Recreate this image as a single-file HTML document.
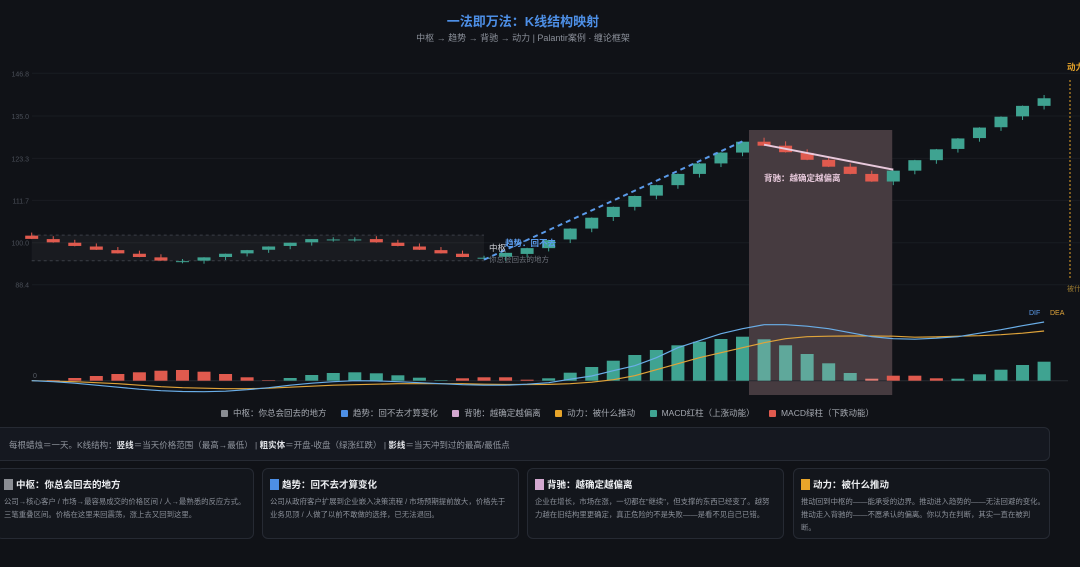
<!DOCTYPE html>
<html><head><meta charset="utf-8">
<style>
html,body{margin:0;padding:0;background:#101217;width:1080px;height:567px;overflow:hidden;font-family:"Liberation Sans","Noto Sans CJK SC",sans-serif;}
#wrap{position:relative;width:1080px;height:567px;}
.title{position:absolute;left:0;width:1046px;top:11px;text-align:center;color:#4d8fe6;font-weight:bold;font-size:13px;}
.sub{position:absolute;left:0;width:1046px;top:31px;text-align:center;color:#8a8f99;font-size:9px;}
.legend{position:absolute;top:407px;left:221px;font-size:8.5px;color:#a4a8b0;white-space:nowrap;}
.legend span.it{margin-right:12px;}
.legend i{display:inline-block;width:7px;height:7px;border-radius:1px;margin-right:5px;vertical-align:-1px;}
.note{position:absolute;left:-8px;top:427px;width:1058px;height:34px;box-sizing:border-box;background:#151820;border:1px solid #262a33;border-radius:6px;font-size:8.5px;color:#8f949d;padding:11px 0 0 16px;}
.note b{color:#e0e2e6;}
.card{position:absolute;top:468px;height:71px;box-sizing:border-box;background:#13161c;border:1px solid #262a33;border-radius:6px;padding:8px 7px;}
.card h4{margin:0 0 4px 0;font-size:9.5px;color:#eceef1;font-weight:bold;}
.card h4 i{display:inline-block;width:9px;height:11px;margin-right:3px;vertical-align:-2px;}
.card p{margin:0;font-size:7.4px;line-height:13px;color:#8a8f98;white-space:nowrap;}
</style></head><body>
<div id="wrap">
<div class="title">一法即万法：K线结构映射</div>
<div class="sub">中枢 → 趋势 → 背驰 → 动力 | Palantir案例 · 缠论框架</div>
<svg id="chart" width="1080" height="400" style="position:absolute;left:0;top:0"></svg>
<div class="legend">
<span class="it"><i style="background:#8a8d93"></i>中枢：你总会回去的地方</span>
<span class="it"><i style="background:#4d8fe6"></i>趋势：回不去才算变化</span>
<span class="it"><i style="background:#d3a8d0"></i>背驰：越确定越偏离</span>
<span class="it"><i style="background:#e8a52a"></i>动力：被什么推动</span>
<span class="it"><i style="background:#3fa391"></i>MACD红柱（上涨动能）</span>
<span class="it"><i style="background:#e05a4e"></i>MACD绿柱（下跌动能）</span>
</div>
<div class="note">每根蜡烛＝一天。K线结构：<b>竖线</b>＝当天价格范围（最高→最低） | <b>粗实体</b>＝开盘-收盘（绿涨红跌） | <b>影线</b>＝当天冲到过的最高/最低点</div>
<div class="card" style="left:-4px;width:258px"><h4><i style="background:#8a8d93"></i>中枢：你总会回去的地方</h4><p>公司→核心客户 / 市场→最容易成交的价格区间 / 人→最熟悉的反应方式。<br>三笔重叠区间。价格在这里来回震荡，涨上去又回到这里。</p></div>
<div class="card" style="left:262px;width:257px"><h4><i style="background:#4d8fe6"></i>趋势：回不去才算变化</h4><p>公司从政府客户扩展到企业嵌入决策流程 / 市场预期提前放大，价格先于<br>业务见顶 / 人做了以前不敢做的选择，已无法退回。</p></div>
<div class="card" style="left:527px;width:257px"><h4><i style="background:#d3a8d0"></i>背驰：越确定越偏离</h4><p>企业在增长，市场在涨，一切都在"继续"，但支撑的东西已经变了。越努<br>力越在旧结构里更确定，真正危险的不是失败——是看不见自己已错。</p></div>
<div class="card" style="left:793px;width:257px"><h4><i style="background:#e8a52a"></i>动力：被什么推动</h4><p>推动回到中枢的——能承受的边界。推动进入趋势的——无法回避的变化。<br>推动走入背驰的——不愿承认的偏离。你以为在判断，其实一直在被判<br>断。</p></div>
</div>
<script>
const opens  = [101.95,101.0,100.0,98.95,97.95,96.95,95.95,94.9,95.05,96.05,97.05,98.05,99.1,100.1,100.9,100.9,101.0,100.0,98.95,97.95,96.95,95.85,96.1,96.9,98.5,100.9,103.9,107.1,109.9,113.0,115.9,119.0,121.9,124.9,127.9,126.8,124.8,122.9,121.0,119.0,116.9,119.9,122.8,125.9,128.9,131.9,134.9,137.8];
const closes = [101.05,100.1,99.1,98.05,97.05,96.05,95.05,94.9,95.95,96.95,97.95,98.95,100.0,101.0,100.9,100.9,100.1,99.1,98.05,97.05,96.05,95.85,97.2,98.5,100.7,103.9,106.9,109.9,112.9,115.9,119.0,121.9,124.9,127.9,126.8,125.0,122.9,121.0,119.0,116.9,119.9,122.8,125.8,128.8,131.8,134.8,137.8,139.9];
const highs  = [102.8,101.8,100.8,99.8,98.8,97.8,96.8,95.5,96.0,97.0,98.0,99.0,100.0,101.0,101.5,101.5,101.8,100.8,99.8,98.8,97.8,96.4,97.3,98.6,100.8,104.0,107.0,110.0,113.0,116.0,119.1,122.0,125.0,128.0,129.0,128.0,125.8,123.5,121.9,119.9,120.0,122.9,125.9,128.9,131.9,134.9,137.9,140.8];
const lows   = [101.0,100.0,99.0,98.0,97.0,96.0,95.0,94.3,94.2,95.2,96.2,97.2,98.2,99.2,100.3,100.3,100.0,99.0,98.0,97.0,96.0,95.3,95.0,95.9,97.6,99.9,102.9,106.0,108.9,112.0,114.9,118.0,120.9,123.9,126.7,124.9,122.8,120.9,118.9,116.8,115.9,118.9,121.8,124.9,127.9,130.9,133.9,136.8];
const hist = [0,-0.05,-0.27,-0.47,-0.67,-0.84,-1.0,-1.07,-0.9,-0.67,-0.34,-0.05,0.27,0.57,0.77,0.84,0.74,0.54,0.3,0.05,-0.24,-0.34,-0.34,-0.1,0.24,0.8,1.37,2.0,2.57,3.07,3.54,3.9,4.17,4.4,4.14,3.54,2.67,1.74,0.77,-0.2,-0.5,-0.5,-0.24,0.2,0.64,1.1,1.57,1.9];
const dif = [0,-0.1,-0.25,-0.45,-0.65,-0.85,-1.0,-1.08,-1.1,-1.05,-0.9,-0.7,-0.45,-0.25,-0.1,0,-0.02,-0.1,-0.2,-0.3,-0.4,-0.45,-0.45,-0.35,-0.2,0.15,0.47,1.0,1.5,2.3,3.3,4.0,4.7,5.2,5.6,5.6,5.45,5.2,4.8,4.4,4.2,4.15,4.25,4.4,4.75,5.1,5.5,5.87];
const dea = [0,-0.05,-0.1,-0.2,-0.3,-0.45,-0.6,-0.7,-0.75,-0.8,-0.8,-0.75,-0.65,-0.55,-0.45,-0.4,-0.35,-0.3,-0.3,-0.3,-0.3,-0.35,-0.38,-0.38,-0.37,-0.3,-0.15,0.1,0.5,1.1,1.7,2.3,2.8,3.3,3.8,4.2,4.4,4.45,4.47,4.47,4.45,4.35,4.38,4.45,4.5,4.6,4.75,4.97];
const yTicks = ["146.8","135.0","123.3","111.7","100.0","88.4"];
const zsRange = [95.0,102.1];
const zsIdx = [0,21];
const trendIdx = [21,33];
const divIdx = [34,40];
const divBox = [33.3,39.95];

const NS="http://www.w3.org/2000/svg";
const svg=document.getElementById('chart');
const X0=31.7, STEP=21.54;
const x=i=>X0+i*STEP;
const y=v=>242.7-(v-100)*3.62;
const ZERO=380.7;
const my=v=>ZERO-v*10;
function mk(t,a,p){const e=document.createElementNS(NS,t);for(const k in a)e.setAttribute(k,a[k]);(p||svg).appendChild(e);return e;}

yTicks.forEach((t,k)=>{
  const v=parseFloat(t);
  const g=mk('line',{x1:32,x2:1080,y1:y(v),y2:y(v),stroke:'#191c22','stroke-width':1});
  
  
  const tx=mk('text',{x:29,y:y(v)+3,'text-anchor':'end','font-size':7,fill:'#4a4f58'});
  tx.textContent=t;
  
  
});
const db=mk('rect',{x:x(divBox[0]),y:130,width:x(divBox[1])-x(divBox[0]),height:265,fill:'#463b40'});


const zb=mk('rect',{x:x(zsIdx[0]),y:y(zsRange[1]),width:x(zsIdx[1])-x(zsIdx[0]),height:y(zsRange[0])-y(zsRange[1]),fill:'rgba(255,255,255,0.04)'});


[zsRange[1],zsRange[0]].forEach(v=>{
  const l=mk('line',{x1:x(zsIdx[0]),x2:x(zsIdx[1]),y1:y(v),y2:y(v),stroke:'#3a3e46','stroke-dasharray':'3,3','stroke-width':1});
  
  
});
for(let i=0;i<opens.length;i++){
  const o=opens[i],c=closes[i],up=c>o,flat=Math.abs(c-o)<0.05;
  const col=flat?'#3fa391':(up?'#3fa391':'#e05a4e');
  const w=mk('line',{x1:x(i),x2:x(i),y1:y(highs[i]),y2:y(lows[i]),stroke:col,'stroke-width':1});
  
  
  const top=y(Math.max(o,c)),h=Math.max(1,Math.abs(y(o)-y(c)));
  const r=mk('rect',{x:x(i)-6.5,y:top,width:13,height:h,fill:col});
  
  
}
const tl=mk('line',{x1:x(trendIdx[0]),y1:y(lows[trendIdx[0]]),x2:x(trendIdx[1]),y2:y(highs[trendIdx[1]]),stroke:'#5b9bea','stroke-width':2,'stroke-dasharray':'5,4'});


const dl=mk('line',{x1:x(divIdx[0]),y1:y(opens[divIdx[0]])+3,x2:x(divIdx[1]),y2:y(closes[divIdx[1]])-1,stroke:'#e9c9dc','stroke-width':2});


function lbl(t,xx,yy,sz,col,bold,name){const e=mk('text',{x:xx,y:yy,'font-size':sz,fill:col,'font-weight':bold?'bold':'normal'});e.textContent=t;

return e;}
lbl('中枢',489,251,8.5,'#cfd2d8',false,'zhongshu-label');
lbl('你总会回去的地方',489,262,7.5,'#6e737c',false,'zhongshu-sublabel');
lbl('趋势：回不去',505,246,8.5,'#5b9bea',true,'trend-label');
lbl('背驰：越确定越偏离',764,181,8.5,'#e6c8da',true,'divergence-label');
lbl('动力',1067,70,8.5,'#e8a52a',true,'momentum-label');
lbl('被什',1067,291,7,'#9a7a30',false,'momentum-sublabel');
const ml=mk('line',{x1:1070,x2:1070,y1:80,y2:280,stroke:'#e8a52a','stroke-width':1,'stroke-dasharray':'2,2'});


const zl=mk('line',{x1:32,x2:1068,y1:ZERO,y2:ZERO,stroke:'#262a31','stroke-width':1});


lbl('0',33,378,7,'#5a5f68',false,'macd-zero-label');
for(let i=0;i<hist.length;i++){
  const v=hist[i];const h=Math.abs(v)*10;if(h<0.3)continue;
  const inDiv=i>=34&&i<=39;
  const col=v>=0?(inDiv?'#5fa89b':'#3fa391'):(inDiv?'#e37d75':'#e05a4e');
  const b=mk('rect',{x:x(i)-6.5,y:ZERO-h,width:13,height:h,fill:col});
  
  
}
function pl(arr,col,name){const d=arr.map((v,i)=>(i?'L':'M')+x(i).toFixed(1)+','+my(v).toFixed(1)).join('');
const p=mk('path',{d:d,fill:'none',stroke:col,'stroke-width':1.2});

}
pl(dea,'#e0a43a','dea-line');
pl(dif,'#6aaee8','dif-line');
lbl('DIF',1029,315,7,'#5b9bea',false,'dif-label');
lbl('DEA',1050,315,7,'#e0a43a',false,'dea-label');
</script>
</body></html>
